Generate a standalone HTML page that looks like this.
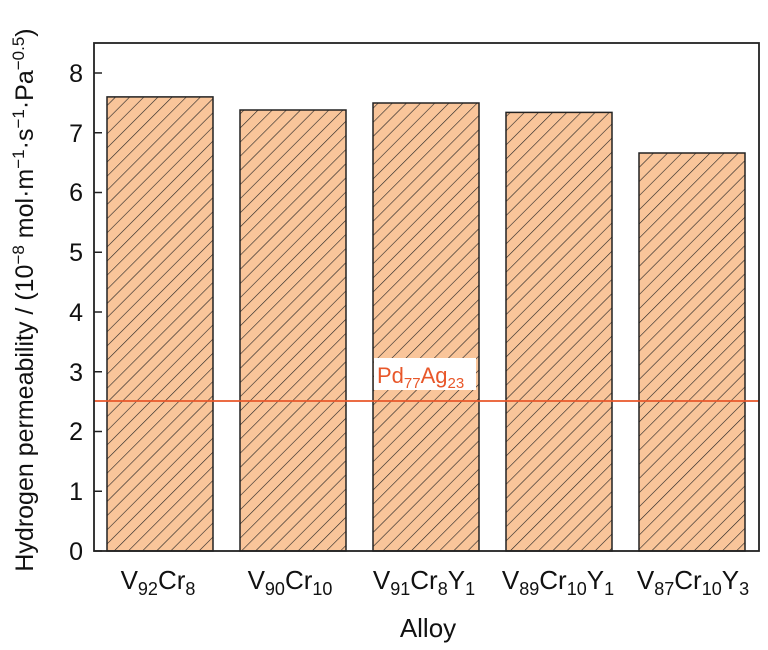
<!DOCTYPE html>
<html><head><meta charset="utf-8"><style>
body{margin:0;background:#fff}
svg{display:block;font-family:"Liberation Sans",Arial,sans-serif}
</style></head><body>
<svg width="768" height="650" viewBox="0 0 768 650">
<defs>
<pattern id="h" patternUnits="userSpaceOnUse" width="10" height="10" patternTransform="rotate(45)">
<rect width="10" height="10" fill="#f9c59a"/>
<line x1="0" y1="0" x2="0" y2="10" stroke="#222" stroke-width="1.2"/>
</pattern>
</defs>
<g stroke="#222" stroke-width="1.5">
<rect x="107" y="96.9" width="106" height="454.1" fill="url(#h)"/>
<rect x="240" y="110" width="106" height="441" fill="url(#h)"/>
<rect x="373" y="103" width="106" height="448" fill="url(#h)"/>
<rect x="506" y="112.4" width="106" height="438.6" fill="url(#h)"/>
<rect x="639" y="153" width="106" height="398" fill="url(#h)"/>
</g>
<line x1="94" y1="401" x2="759" y2="401" stroke="#e8572a" stroke-width="1.8"/>
<rect x="374" y="358" width="102" height="32" fill="#fff"/>
<text x="377" y="383" font-size="22" fill="#e8572a">Pd<tspan font-size="15" dy="5">77</tspan><tspan dy="-5">Ag</tspan><tspan font-size="15" dy="5">23</tspan></text>
<rect x="94" y="43" width="665" height="508" fill="none" stroke="#222" stroke-width="1.8"/>
<g stroke="#222" stroke-width="1.5">
<line x1="94" y1="551" x2="102" y2="551"/><line x1="94" y1="491.25" x2="102" y2="491.25"/>
<line x1="94" y1="431.5" x2="102" y2="431.5"/><line x1="94" y1="371.75" x2="102" y2="371.75"/>
<line x1="94" y1="312" x2="102" y2="312"/><line x1="94" y1="252.25" x2="102" y2="252.25"/>
<line x1="94" y1="192.5" x2="102" y2="192.5"/><line x1="94" y1="132.75" x2="102" y2="132.75"/>
<line x1="94" y1="73" x2="102" y2="73"/>
</g>
<g font-size="25" fill="#111" text-anchor="end">
<text x="83" y="560">0</text><text x="83" y="500">1</text><text x="83" y="440">2</text>
<text x="83" y="381">3</text><text x="83" y="321">4</text><text x="83" y="261">5</text>
<text x="83" y="201">6</text><text x="83" y="142">7</text><text x="83" y="82">8</text>
</g>
<g font-size="26" fill="#111" text-anchor="middle">
<text x="158" y="589">V<tspan font-size="18" dy="6">92</tspan><tspan dy="-6">Cr</tspan><tspan font-size="18" dy="6">8</tspan></text>
<text x="290" y="589">V<tspan font-size="18" dy="6">90</tspan><tspan dy="-6">Cr</tspan><tspan font-size="18" dy="6">10</tspan></text>
<text x="424" y="589">V<tspan font-size="18" dy="6">91</tspan><tspan dy="-6">Cr</tspan><tspan font-size="18" dy="6">8</tspan><tspan dy="-6">Y</tspan><tspan font-size="18" dy="6">1</tspan></text>
<text x="558" y="589">V<tspan font-size="18" dy="6">89</tspan><tspan dy="-6">Cr</tspan><tspan font-size="18" dy="6">10</tspan><tspan dy="-6">Y</tspan><tspan font-size="18" dy="6">1</tspan></text>
<text x="693" y="589">V<tspan font-size="18" dy="6">87</tspan><tspan dy="-6">Cr</tspan><tspan font-size="18" dy="6">10</tspan><tspan dy="-6">Y</tspan><tspan font-size="18" dy="6">3</tspan></text>
<text x="428" y="637">Alloy</text>
</g>
<text transform="translate(33,300) rotate(-90)" font-size="25" fill="#111" text-anchor="middle">Hydrogen permeability / (10<tspan font-size="17" dy="-9">−8</tspan><tspan dy="9"> mol·m</tspan><tspan font-size="17" dy="-9">−1</tspan><tspan dy="9">·s</tspan><tspan font-size="17" dy="-9">−1</tspan><tspan dy="9">·Pa</tspan><tspan font-size="17" dy="-9">−0.5</tspan><tspan dy="9">)</tspan></text>
</svg>
</body></html>
